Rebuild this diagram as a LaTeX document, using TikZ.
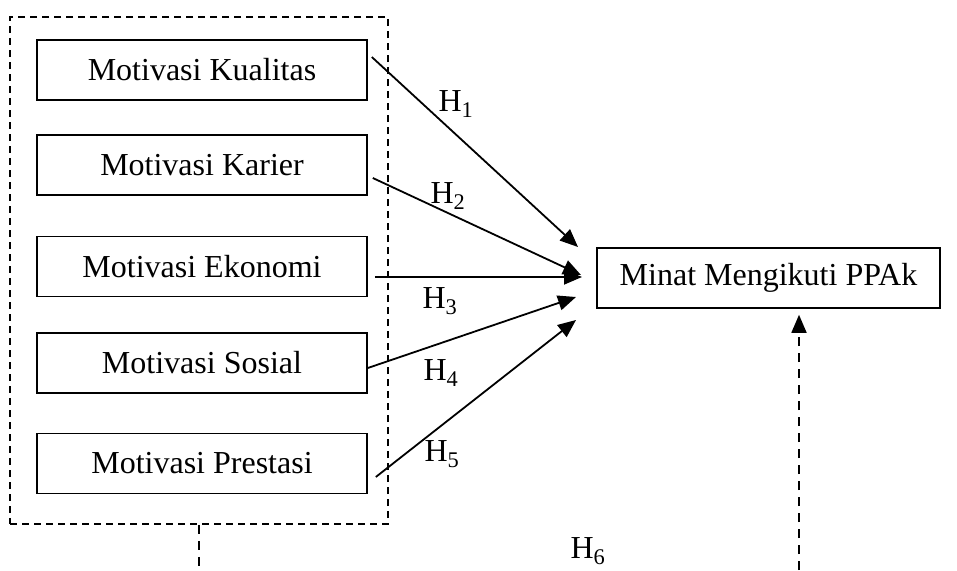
\documentclass[tikz,border=0pt]{standalone}
\usepackage{fontspec}
\setmainfont{Liberation Serif}
\usetikzlibrary{arrows.meta}

\begin{document}
\begin{tikzpicture}[x=1pt,y=-1pt,
  every node/.style={font=\fontsize{32}{38}\selectfont},
  varbox/.style={draw,line width=1.6pt,minimum width=330pt,minimum height=60pt,inner sep=0pt},
  hyp/.style={-{Triangle[length=18pt,width=15pt]},line width=1.8pt},
  dashline/.style={line width=1.7pt,dash pattern=on 7pt off 5pt}]
\useasboundingbox (0,0) rectangle (957,570);
% dashed group of independent variables
\node[draw,dashline,minimum width=378pt,minimum height=507pt,inner sep=0pt] (grp) at (199,270.5) {};
\node[varbox] (kual) at (202,70) {Motivasi Kualitas};
\node[varbox] (kar) at (202,165) {Motivasi Karier};
\node[varbox] (eko) at (202,266.5) {Motivasi Ekonomi};
\node[varbox] (sos) at (202,363) {Motivasi Sosial};
\node[varbox] (pres) at (202,463.5) {Motivasi Prestasi};
\node[draw,line width=1.6pt,minimum width=343pt,minimum height=60pt,inner sep=0pt] (minat) at (768.5,278) {Minat Mengikuti PPAk};
% arrow tips
\coordinate (t1) at (578,247);
\coordinate (t2) at (581,275);
\coordinate (t3) at (582,277);
\coordinate (t4) at (576,297);
\coordinate (t5) at (576,320);
\draw[hyp] ([xshift=4pt,yshift=13pt]kual.east) -- (t1);
\draw[hyp] ([xshift=5pt,yshift=-13pt]kar.east) -- (t2);
\draw[hyp] ([xshift=7pt,yshift=-10.5pt]eko.east) -- (t3);
\draw[hyp] ([yshift=-5pt]sos.east) -- (t4);
\draw[hyp] ([xshift=8pt,yshift=-13.5pt]pres.east) -- (t5);
\node (h1) at (456,104) {H\textsubscript{1}};
\node (h2) at (448,196) {H\textsubscript{2}};
\node (h3) at (440,301) {H\textsubscript{3}};
\node (h4) at (441,373) {H\textsubscript{4}};
\node (h5) at (442,454) {H\textsubscript{5}};
\node (h6) at (588,551) {H\textsubscript{6}};
% moderating path
\coordinate (lbot) at (grp.south |- 0,570);
\coordinate (rbot) at (799,570);
\draw[dashline,dash pattern=on 9pt off 7pt] (grp.south) -- (lbot);
\draw[dashline,dash pattern=on 9pt off 7pt,-{Triangle[length=18pt,width=15pt]}] (rbot) -- ([yshift=-6pt]rbot |- minat.south);
\end{tikzpicture}
\end{document}
